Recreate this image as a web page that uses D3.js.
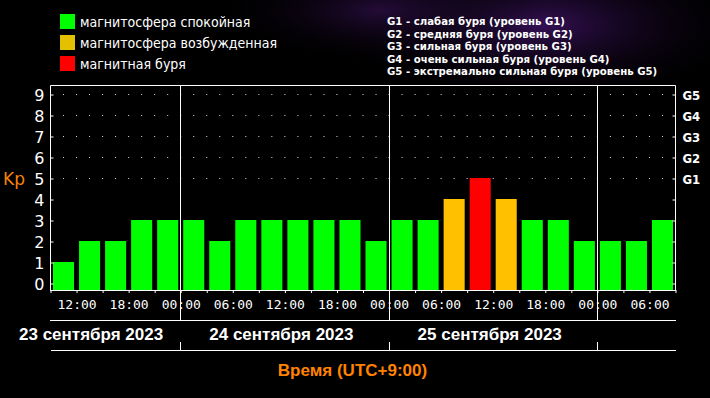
<!DOCTYPE html>
<meta charset="utf-8">
<style>
body { margin: 0; background: #000; }
text { fill: #fff; }
</style>
<body>
<div class="chart"></div>
</body>
<script src="https://cdn.jsdelivr.net/npm/d3@7"></script>
<script>

// Kp index, 3-hour intervals starting 23.09.2023 09:00 (UTC+9)
var startTime = "2023-09-23T09:00",
    endTime = "2023-09-26T09:00";
var kpValues = [1, 2, 2, 3, 3,
                3, 2, 3, 3, 3, 3, 3, 2,
                3, 3, 4, 5, 4, 3, 3, 2,
                2, 2, 3];
var dayStarts = ["2023-09-24T00:00", "2023-09-25T00:00", "2023-09-26T00:00"];
var dayLabels = ["23 сентября 2023", "24 сентября 2023", "25 сентября 2023"];
var kpTicks = [0, 1, 2, 3, 4, 5, 6, 7, 8, 9];
var stormLevels = [5, 6, 7, 8, 9];
var stormLabels = ["G1", "G2", "G3", "G4", "G5"];
var legendLabels = ["магнитосфера спокойная", "магнитосфера возбужденная", "магнитная буря"];
var legendColors = ["#00ff00", "#e3c000", "#ff0000"];
var stormNotes = ["G1 - слабая буря (уровень G1)",
                  "G2 - средняя буря (уровень G2)",
                  "G3 - сильная буря (уровень G3)",
                  "G4 - очень сильная буря (уровень G4)",
                  "G5 - экстремально сильная буря (уровень G5)"];

var w = 710, h = 398,
    pLeft = 50, pRight = 675, pTop = 85, pBottom = 290;

var parse = d3.timeParse("%Y-%m-%dT%H:%M");
var t0 = parse(startTime), t1 = parse(endTime);

var x = d3.scaleTime().domain([t0, t1]).range([pLeft, pRight]);
var y = d3.scaleLinear().domain([0, 9]).range([283, 94]);
var slot = x(d3.timeHour.offset(t0, 3)) - x(t0);

function barColor(v) {
  if (v >= 5) return "#ff0000";
  if (v >= 4) return "#ffc000";
  return "#00ff00";
}

var svg = d3.select(".chart").append("svg")
    .attr("width", w)
    .attr("height", h);

// purple haze at the top
var defs = svg.append("defs");
var g1 = defs.append("radialGradient").attr("id", "haze1");
g1.append("stop").attr("offset", "0%").attr("stop-color", "#3c1260").attr("stop-opacity", 0.9);
g1.append("stop").attr("offset", "100%").attr("stop-color", "#000").attr("stop-opacity", 0);
var g2 = defs.append("radialGradient").attr("id", "haze2");
g2.append("stop").attr("offset", "0%").attr("stop-color", "#2c0e44").attr("stop-opacity", 0.8);
g2.append("stop").attr("offset", "100%").attr("stop-color", "#000").attr("stop-opacity", 0);

svg.append("rect").attr("width", w).attr("height", h).attr("fill", "#000");
svg.append("ellipse").attr("cx", 540).attr("cy", 25).attr("rx", 220).attr("ry", 80).attr("fill", "url(#haze1)");
svg.append("ellipse").attr("cx", 380).attr("cy", 10).attr("rx", 170).attr("ry", 55).attr("fill", "url(#haze2)");
svg.append("rect").attr("x", 0).attr("y", 84).attr("width", w).attr("height", h - 84).attr("fill", "#000");

// legend
var legend = svg.append("g").attr("transform", "translate(60,14)");
legend.selectAll("rect")
    .data(legendColors)
  .enter().append("rect")
    .attr("x", 0)
    .attr("y", function(d, i) { return i * 21; })
    .attr("width", 15)
    .attr("height", 15)
    .attr("fill", function(d) { return d; });
legend.selectAll("text")
    .data(legendLabels)
  .enter().append("text")
    .attr("x", 20)
    .attr("y", function(d, i) { return i * 21 + 13; })
    .style("font", "14px 'DejaVu Sans Condensed', 'DejaVu Sans'")
    .text(function(d) { return d; });

svg.append("g").attr("transform", "translate(387,25)")
  .selectAll("text")
    .data(stormNotes)
  .enter().append("text")
    .attr("y", function(d, i) { return i * 12.5; })
    .style("font", "bold 11.3px 'DejaVu Sans Condensed', 'DejaVu Sans'")
    .text(function(d) { return d; });

// dotted levels
svg.selectAll(".dots")
    .data(stormLevels)
  .enter().append("line")
    .attr("x1", pLeft).attr("x2", pRight)
    .attr("y1", function(d) { return y(d) + 0.5; })
    .attr("y2", function(d) { return y(d) + 0.5; })
    .attr("stroke", "#ddd")
    .attr("stroke-dasharray", "1," + (slot / 2 - 1));

// bars
svg.selectAll(".bar")
    .data(kpValues)
  .enter().append("rect")
    .attr("x", function(d, i) { return x(d3.timeHour.offset(t0, i * 3)) + 3; })
    .attr("y", function(d) { return y(d); })
    .attr("width", slot - 5)
    .attr("height", function(d) { return pBottom - y(d); })
    .attr("fill", barColor);

// frame
svg.append("path")
    .attr("d", "M" + (pLeft + 0.5) + "," + pBottom + "V" + (pTop + 0.5) + "H" + (pRight + 0.5) + "V" + pBottom)
    .attr("fill", "none").attr("stroke", "#fff");
svg.append("line")
    .attr("x1", pLeft).attr("x2", pRight + 1)
    .attr("y1", pBottom + 0.5).attr("y2", pBottom + 0.5)
    .attr("stroke", "#fff");

// day dividers
var days = dayStarts.map(parse);
function dx(d) { return Math.round(x(d)) + 0.5; }
svg.selectAll(".div")
    .data(days)
  .enter().append("line")
    .attr("x1", dx).attr("x2", dx)
    .attr("y1", pTop).attr("y2", 320)
    .attr("stroke", "#fff");
svg.selectAll(".div2")
    .data(days)
  .enter().append("line")
    .attr("x1", dx).attr("x2", dx)
    .attr("y1", 342).attr("y2", 350)
    .attr("stroke", "#fff");

// axes
var yLeft = svg.append("g")
    .attr("transform", "translate(" + (pLeft + 0.5) + ",0.5)")
    .call(d3.axisLeft(y).tickValues(kpTicks).tickSize(-3).tickPadding(6).tickFormat(d3.format("d")));
yLeft.select(".domain").remove();
yLeft.selectAll("line").attr("stroke", "#fff");
yLeft.selectAll("text").attr("fill", "#fff").attr("dy", "0.36em")
    .style("font", "16px 'DejaVu Sans'");

var yRight = svg.append("g")
    .attr("transform", "translate(" + (pRight + 0.5) + ",0.5)")
    .call(d3.axisRight(y).tickValues(kpTicks).tickSize(-3).tickPadding(7)
      .tickFormat(function(d) { var k = stormLevels.indexOf(d); return k < 0 ? "" : stormLabels[k]; }));
yRight.select(".domain").remove();
yRight.selectAll("line").attr("stroke", "#fff");
yRight.selectAll("text").attr("fill", "#fff").attr("dy", "0.36em")
    .style("font", "bold 13px 'DejaVu Sans Condensed', 'DejaVu Sans'");

var xMinor = svg.append("g")
    .attr("transform", "translate(0.5," + pBottom + ")")
    .call(d3.axisBottom(x).ticks(d3.timeHour.every(3)).tickSize(3).tickFormat(""));
xMinor.select(".domain").remove();
xMinor.selectAll("line").attr("stroke", "#fff");

var xAxis = svg.append("g")
    .attr("transform", "translate(0.5," + pBottom + ")")
    .call(d3.axisBottom(x).ticks(d3.timeHour.every(6)).tickSize(0).tickPadding(10)
      .tickFormat(d3.timeFormat("%H:%M")));
xAxis.select(".domain").remove();
xAxis.selectAll("text").attr("fill", "#fff")
    .style("font", "13px 'DejaVu Sans Mono'");

// date band
svg.append("line").attr("x1", pLeft).attr("x2", pRight + 1)
    .attr("y1", 320.5).attr("y2", 320.5).attr("stroke", "#fff");
svg.append("line").attr("x1", pLeft + 1).attr("x2", pRight + 1)
    .attr("y1", 350.5).attr("y2", 350.5).attr("stroke", "#fff");

var dayBounds = [d3.timeDay.floor(t0)].concat(days);
svg.selectAll(".day")
    .data(dayLabels)
  .enter().append("text")
    .attr("text-anchor", "middle")
    .attr("y", 340)
    .style("font", "bold 17px 'Liberation Sans'")
    .text(function(d) { return d; })
    .attr("x", function(d, i) {
      var c = (x(dayBounds[i]) + x(dayBounds[i + 1])) / 2 - 3;
      var half = this.getComputedTextLength() / 2;
      return Math.max(c, 19 + half);
    });

svg.append("text")
    .attr("x", 3).attr("y", 185)
    .style("fill", "#f5820a")
    .style("font", "17px 'DejaVu Sans'")
    .text("Kp");

svg.append("text")
    .attr("x", (pLeft + pRight) / 2 - 10).attr("y", 376)
    .attr("text-anchor", "middle")
    .style("fill", "#ff8200")
    .style("font", "bold 17px 'Liberation Sans'")
    .text("Время (UTC+9:00)");

</script>
